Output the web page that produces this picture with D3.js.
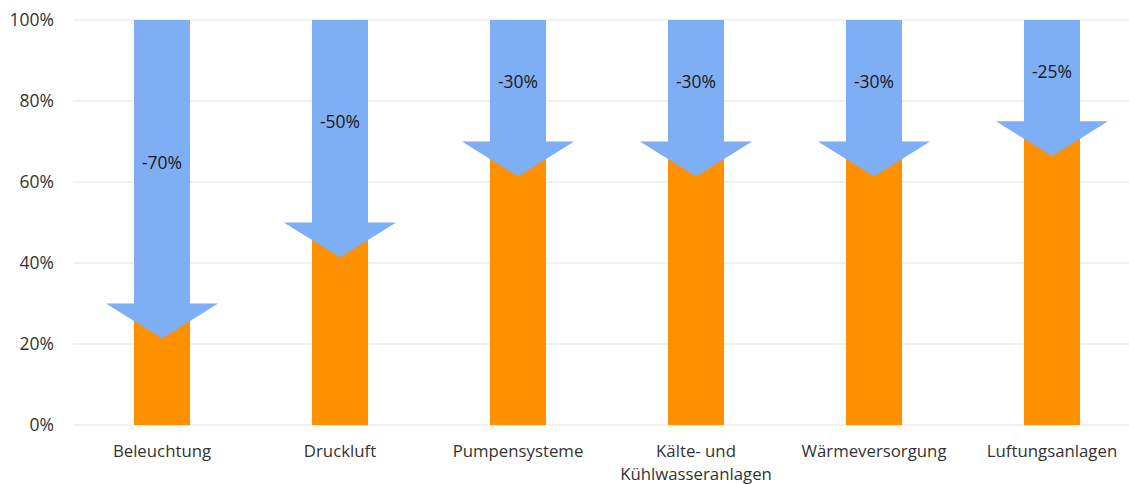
<!DOCTYPE html>
<html>
<head>
<meta charset="utf-8">
<script src="https://cdn.jsdelivr.net/npm/d3@7"></script>
<style>
  html, body { margin: 0; padding: 0; background: #fff; }
  svg { display: block; font-family: "Open Sans", "Noto Sans", sans-serif; }
</style>
</head>
<body>
<svg id="chart" width="1129" height="484"></svg>
<script>
// Savings potential per application area
const categories = ["Beleuchtung", "Druckluft", "Pumpensysteme", "Kälte- und\nKühlwasseranlagen", "Wärmeversorgung", "Luftungsanlagen"];
const remaining = [30, 50, 70, 70, 70, 75];      // share of consumption left (orange)
const reduction = [70, 50, 30, 30, 30, 25];      // savings (blue arrow)
const reductionLabels = ["-70%", "-50%", "-30%", "-30%", "-30%", "-25%"];
const yTicks = [0, 20, 40, 60, 80, 100];

const svg = d3.select("#chart");
const plotLeft = 73, plotRight = 1141, plotTop = 20, plotBottom = 425;

const x = d3.scaleBand().domain(categories).range([plotLeft, plotRight]).paddingInner(0.685).paddingOuter(0.3425);
const y = d3.scaleLinear().domain([0, 100]).range([plotBottom, plotTop]);

// gridlines
svg.append("g").selectAll("line").data(yTicks).join("line")
  .attr("x1", plotLeft).attr("x2", 1129)
  .attr("y1", d => y(d)).attr("y2", d => y(d))
  .attr("stroke", "#e4e4e4").attr("stroke-width", 1.2);

// y axis labels
const yAxis = d3.axisLeft(y).tickValues(yTicks).tickFormat(d => d + "%").tickSize(0).tickPadding(19);
const ya = svg.append("g").attr("transform", `translate(${plotLeft},0)`).call(yAxis);
ya.select(".domain").remove();
ya.selectAll("text").attr("font-size", 17.5).attr("fill", "#333").attr("font-family", "Open Sans, sans-serif");

const bw = x.bandwidth();
const headHalf = bw;          // arrow head spans twice the bar width
const headDepth = 35;         // px from head base to tip

// orange remaining bars
svg.append("g").selectAll("rect").data(categories).join("rect")
  .attr("x", d => x(d)).attr("width", bw)
  .attr("y", (d, i) => y(remaining[i]))
  .attr("height", (d, i) => y(0) - y(remaining[i]))
  .attr("fill", "#FF9000");

// blue reduction arrows: shaft from 100% down to the remaining level, head below it
svg.append("g").selectAll("path").data(categories).join("path")
  .attr("d", (d, i) => {
    const x0 = x(d), x1 = x(d) + bw, cx = x(d) + bw / 2;
    const yTop = y(remaining[i] + reduction[i]);
    const yBase = y(remaining[i]);
    return `M${x0},${yTop} L${x1},${yTop} L${x1},${yBase} L${cx + headHalf},${yBase} ` +
           `L${cx},${yBase + headDepth} L${cx - headHalf},${yBase} L${x0},${yBase} Z`;
  })
  .attr("fill", "#7EAEF3");

// reduction labels centred on the shaft
svg.append("g").selectAll("text").data(categories).join("text")
  .attr("x", d => x(d) + bw / 2)
  .attr("y", (d, i) => (y(100) + y(remaining[i])) / 2)
  .attr("text-anchor", "middle").attr("dominant-baseline", "central")
  .attr("font-size", 17.5).attr("fill", "#1a1a1a")
  .text((d, i) => reductionLabels[i]);

// category labels (multi-line labels split on "\n")
const cl = svg.append("g").selectAll("text").data(categories).join("text")
  .attr("x", d => x(d) + bw / 2)
  .attr("y", 450)
  .attr("text-anchor", "middle").attr("dominant-baseline", "central")
  .attr("font-size", 16.8).attr("fill", "#333");
cl.each(function(d) {
  const lines = d.split("\n");
  d3.select(this).selectAll("tspan").data(lines).join("tspan")
    .attr("x", x(d) + bw / 2)
    .attr("dy", (l, j) => j === 0 ? 0 : 23)
    .text(l => l);
});
</script>
</body>
</html>
